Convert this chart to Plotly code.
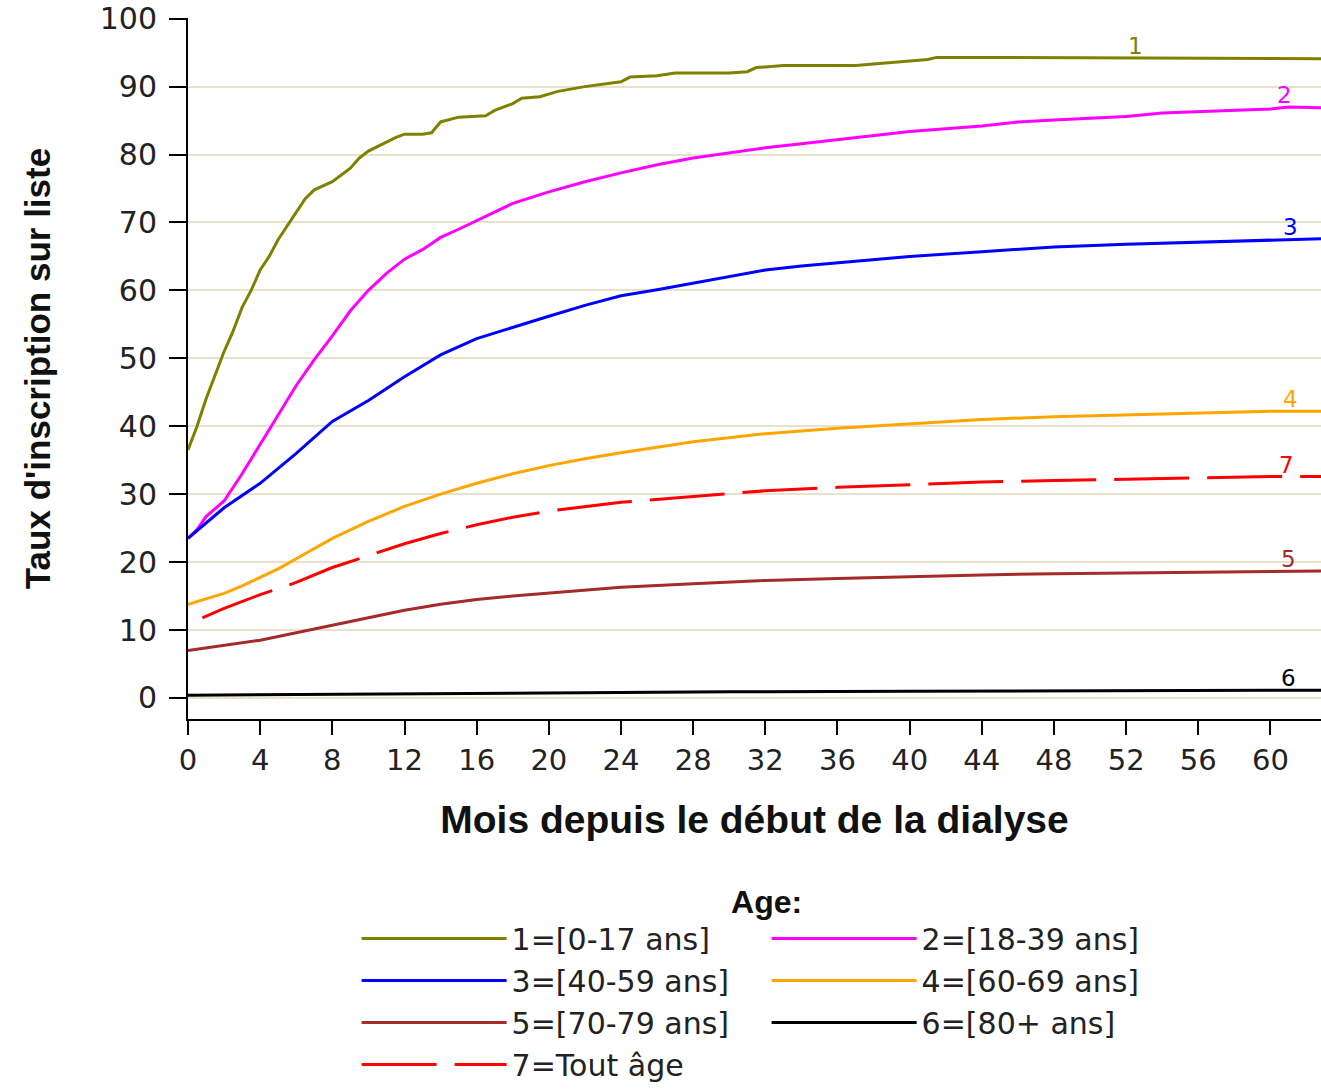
import numpy as np
import plotly.graph_objects as go

# ---- data ----
x1 = [0, 0.5, 1, 1.5, 2, 2.5, 3, 3.5, 4, 4.5, 5, 5.5, 6, 6.5, 7, 8, 9, 9.5, 10, 11, 11.5, 12, 13, 13.5, 14, 15, 16.5, 17, 18, 18.5, 19.5, 20.5, 22, 24, 24.5, 26, 27, 30, 31, 31.5, 33, 37, 40, 41, 41.5, 44, 62.8]
y1 = [36.5, 40, 44, 47.5, 51, 54, 57.5, 60, 63, 65, 67.5, 69.5, 71.5, 73.5, 74.8, 76, 78, 79.5, 80.5, 81.8, 82.5, 83, 83, 83.2, 84.8, 85.5, 85.7, 86.5, 87.5, 88.3, 88.5, 89.3, 90, 90.7, 91.4, 91.6, 92, 92, 92.2, 92.8, 93.1, 93.1, 93.7, 94, 94.3, 94.3, 94.1]

x2 = [0, 0.5, 1, 2, 3, 4, 5, 6, 7, 8, 9, 10, 11, 12, 13, 14, 15, 16, 18, 20, 22, 24, 26, 28, 30, 32, 34, 36, 38, 40, 44, 46, 48, 52, 54, 56, 60, 61, 62.8]
y2 = [23.5, 24.8, 26.7, 29, 33, 37.3, 41.8, 46, 49.8, 53.3, 57, 60, 62.5, 64.6, 66, 67.8, 69, 70.3, 72.8, 74.5, 76, 77.3, 78.5, 79.5, 80.3, 81, 81.6, 82.2, 82.8, 83.4, 84.2, 84.8, 85.1, 85.6, 86.1, 86.3, 86.7, 87, 86.9]

x3 = [0, 2, 4, 6, 8, 10, 12, 14, 16, 18, 20, 22, 24, 26, 28, 30, 32, 34, 36, 40, 44, 48, 52, 56, 60, 62.8]
y3 = [23.5, 28, 31.6, 36, 40.7, 43.8, 47.3, 50.5, 52.9, 54.6, 56.2, 57.8, 59.2, 60.1, 61.1, 62, 63, 63.6, 64.1, 65, 65.7, 66.4, 66.8, 67.1, 67.5, 67.6]

x4 = [0, 1, 2, 3, 4, 5, 6, 7, 8, 10, 12, 14, 16, 18, 20, 22, 24, 28, 32, 36, 40, 44, 48, 52, 56, 60, 62.8]
y4 = [13.8, 14.6, 15.4, 16.5, 17.8, 19, 20.5, 22, 23.5, 26, 28.2, 30, 31.6, 33, 34.2, 35.2, 36.1, 37.7, 38.9, 39.7, 40.4, 41, 41.4, 41.7, 41.9, 42.2, 42.2]

x5 = [0, 2, 4, 6, 8, 10, 12, 14, 16, 18, 20, 24, 28, 32, 36, 40, 44, 48, 52, 56, 60, 62.8]
y5 = [7, 7.7, 8.5, 9.6, 10.7, 11.8, 12.9, 13.8, 14.5, 15, 15.4, 16.3, 16.8, 17.3, 17.6, 17.9, 18.1, 18.3, 18.4, 18.5, 18.7, 18.7]

x6 = [0, 10, 20, 30, 40, 50, 62.8]
y6 = [0.4, 0.6, 0.8, 0.9, 1.0, 1.1, 1.15]

x7 = [0.8, 2, 4, 6, 8, 10, 12, 14, 16, 18, 20, 24, 28, 32, 36, 40, 44, 48, 52, 56, 60, 62.8]
y7 = [11.8, 13.2, 15.2, 17, 19.2, 21, 22.7, 24.2, 25.5, 26.6, 27.5, 28.8, 29.7, 30.5, 31, 31.4, 31.8, 32, 32.2, 32.4, 32.6, 32.6]

names = ["1=[0-17 ans]", "2=[18-39 ans]", "3=[40-59 ans]", "4=[60-69 ans]",
         "5=[70-79 ans]", "6=[80+ ans]", "7=Tout âge"]
curve_labels = ["1", "2", "3", "4", "5", "6", "7"]
label_x = [52.5, 60.8, 61.1, 61.1, 61.0, 61.0, 60.9]

xs = [x1, x2, x3, x4, x5, x6, x7]
ys = [y1, y2, y3, y4, y5, y6, y7]
colors = ["#808000", "#ff00ff", "#0000ff", "#ffa500", "#a52a2a", "#000000", "#ff0000"]
dashes = ["solid"] * 6 + ["75px,18px"]

x_ticks = list(range(0, 61, 4))
y_ticks = list(range(0, 101, 10))

FONT = "DejaVu Sans"
TFONT = "Liberation Sans"

fig = go.Figure()
for x, y, n, c, d in zip(xs, ys, names, colors, dashes):
    fig.add_trace(go.Scatter(x=x, y=y, mode="lines", name=n,
                             line=dict(color=c, width=3, dash=d)))

for lx, xv, yv, lab, c in zip(label_x, xs, ys, curve_labels, colors):
    ly = float(np.interp(lx, xv, yv))
    fig.add_annotation(x=lx, y=ly, text=lab, showarrow=False,
                       font=dict(family=FONT, size=23, color=c),
                       yanchor="middle", yshift=12)

fig.update_layout(
    width=1321, height=1091,
    margin=dict(l=188, r=0, t=18, b=369),
    plot_bgcolor="white", paper_bgcolor="white",
    font=dict(family=FONT, size=29, color="#222222"),
    showlegend=True,
    legend=dict(
        orientation="h", x=0.5107, xanchor="center", y=-0.2173, yanchor="top",
        title=dict(text="<b>Age:</b>", side="top center",
                   font=dict(family=TFONT, size=32, color="#111111")),
        font=dict(family=FONT, size=30, color="#222222"),
        itemwidth=145, entrywidth=250, entrywidthmode="pixels",
        traceorder="normal",
    ),
)
fig.update_xaxes(
    range=[0, 62.8], tickvals=x_ticks, showgrid=False, zeroline=False,
    showline=True, linecolor="black", linewidth=2, automargin=False,
    ticks="outside", ticklen=14, tickwidth=2, tickcolor="black",
    tickfont=dict(family=FONT, size=29, color="#222222"),
    title=dict(text="<b>Mois depuis le début de la dialyse</b>",
               font=dict(family=TFONT, size=39, color="#111111"), standoff=30),
)
fig.update_yaxes(
    range=[-3.1, 100.1], tickvals=y_ticks, showgrid=True, gridcolor="#e8e2cc", gridwidth=2,
    zeroline=False, showline=True, linecolor="black", linewidth=2, automargin=False,
    ticks="outside", ticklen=17, tickwidth=2, tickcolor="black", ticklabelstandoff=6,
    tickfont=dict(family=FONT, size=30, color="#222222"),
    title=dict(text="<b>Taux d'inscription sur liste</b>",
               font=dict(family=TFONT, size=35, color="#111111"), standoff=38),
)

# remove the browser's default 8px page margin so the figure fills the window
fig.write_html("out.html", config={"displayModeBar": False},
               post_script="document.body.style.margin='0px';")
